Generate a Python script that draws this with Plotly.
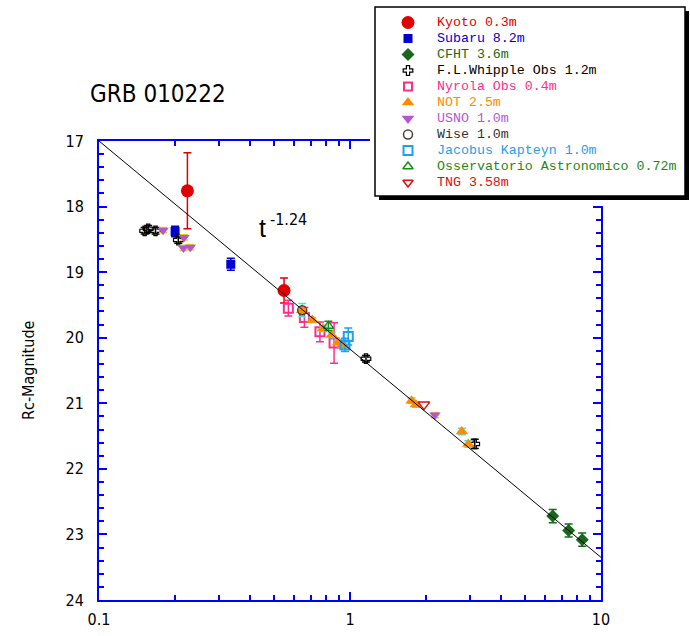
import plotly.graph_objects as go

W, H = 690, 636

# ---------------- data ----------------
kyoto_t = [0.225, 0.546]
kyoto_mag = [17.76, 19.28]
kyoto_err = [0.58, 0.19]

subaru_t = [0.201, 0.335]
subaru_mag = [18.38, 18.88]
subaru_err = [0.08, 0.09]

cfht_t = [6.42, 7.43, 8.42]
cfht_mag = [22.72, 22.94, 23.08]
cfht_err = [0.10, 0.10, 0.10]

whipple_t = [0.152, 0.157, 0.168, 0.207, 1.158, 3.14]
whipple_mag = [18.37, 18.34, 18.37, 18.51, 20.32, 21.62]
whipple_err = [0.05, 0.05, 0.05, 0.05, 0.05, 0.07]

nyrola_t = [0.568, 0.658, 0.759, 0.864]
nyrola_mag = [19.55, 19.69, 19.91, 20.08]
nyrola_err = [0.12, 0.15, 0.15, 0.31]

not_t = [0.645, 0.708, 0.78, 0.845, 0.898, 0.94, 1.76, 1.83, 2.79, 2.96]
not_mag = [19.58, 19.73, 19.86, 19.96, 20.07, 20.12, 20.96, 21.02, 21.43, 21.62]
not_err = [0.10, 0.04, 0.04, 0.04, 0.04, 0.04, 0.04, 0.04, 0.05, 0.05]

usno_t = [0.180, 0.218, 0.217, 0.231, 2.18]
usno_mag = [18.36, 18.47, 18.63, 18.62, 21.18]
usno_err = [0.04, 0.04, 0.04, 0.04, 0.04]

wise_t = [0.645]
wise_mag = [19.58]

jkt_t = [0.955, 0.984]
jkt_mag = [20.11, 19.98]
jkt_err = [0.10, 0.13]

oam_t = [0.82]
oam_mag = [19.82]
oam_err = [0.07]

tng_t = [1.97]
tng_mag = [21.02]

fit_t = [0.1, 10]
fit_mag = [17.0, 23.35]

legend_names = ["Kyoto 0.3m", "Subaru 8.2m", "CFHT 3.6m", "F.L.Whipple Obs 1.2m",
                "Nyrola Obs 0.4m", "NOT 2.5m", "USNO 1.0m", "Wise 1.0m",
                "Jacobus Kapteyn 1.0m", "Osservatorio Astronomico 0.72m", "TNG 3.58m"]

y_ticks = [17, 18, 19, 20, 21, 22, 23, 24]
x_ticks = [0.1, 1, 10]
x_ticktext = ["0.1", "1", "10"]

# ---------------- styles ----------------
styles = [
    dict(symbol="circle", size=13, color="#e00000", line=dict(width=0), errc="#e00000", lsize=13),
    dict(symbol="square", size=9, color="#0000d0", line=dict(width=0), errc="#0000d0", lsize=9),
    dict(symbol="diamond", size=10, color="#1a661a", line=dict(width=0), errc="#1a661a", lsize=10),
    dict(symbol="cross-open", size=8, color="#000000", line=dict(width=1.2, color="#000000"), errc="#000000", lsize=8),
    dict(symbol="square-open", size=9, color="#ff2d8a", line=dict(width=2, color="#ff2d8a"), errc="#ff2d8a", lsize=8),
    dict(symbol="triangle-up", size=11, color="#ff8c00", line=dict(width=0), errc="#55dddd", lsize=11),
    dict(symbol="triangle-down", size=10, color="#b455d8", line=dict(width=0), errc="#e6d800", lsize=11),
    dict(symbol="circle-open", size=9, color="#504040", line=dict(width=1.5, color="#504040"), errc="#504040", lsize=9),
    dict(symbol="square-open", size=9, color="#1ea0ef", line=dict(width=2, color="#1ea0ef"), errc="#1ea0ef", lsize=9),
    dict(symbol="triangle-up-open", size=9, color="#1a8a1a", line=dict(width=1.5, color="#1a8a1a"), errc="#1a8a1a", lsize=9),
    dict(symbol="triangle-down-open", size=10, color="#d81010", line=dict(width=1.5, color="#d81010"), errc="#d81010", lsize=9),
]
text_colors = ["#e00000", "#0000d0", "#1a661a", "#000000", "#ff2d8a", "#ff8c00",
               "#b455d8", "#333333", "#1ea0ef", "#1a8a1a", "#d81010"]

series = [
    (kyoto_t, kyoto_mag, kyoto_err),
    (subaru_t, subaru_mag, subaru_err),
    (cfht_t, cfht_mag, cfht_err),
    (whipple_t, whipple_mag, whipple_err),
    (nyrola_t, nyrola_mag, nyrola_err),
    (not_t, not_mag, not_err),
    (usno_t, usno_mag, usno_err),
    (wise_t, wise_mag, None),
    (jkt_t, jkt_mag, jkt_err),
    (oam_t, oam_mag, oam_err),
    (tng_t, tng_mag, None),
]

fig = go.Figure()

for (tx, my, er), st, nm in zip(series, styles, legend_names):
    kw = {}
    if er is not None:
        kw["error_y"] = dict(type="data", array=er, visible=True, color=st["errc"],
                             thickness=1.5, width=4)
    fig.add_trace(go.Scatter(
        x=tx, y=my, mode="markers", name=nm, showlegend=False,
        marker=dict(symbol=st["symbol"], size=st["size"], color=st["color"],
                    line=st["line"], opacity=1),
        xaxis="x", yaxis="y", **kw))

# power-law decay line
fig.add_trace(go.Scatter(x=fit_t, y=fit_mag, mode="lines", showlegend=False,
                         line=dict(color="#000000", width=1), xaxis="x", yaxis="y"))

# ---------------- legend built on a pixel-space overlay subplot ----------------
LX0, LX1, LY0, LY1 = 370, 690, 0, 206
row0, rowstep = 22.5, 16.0
mark_x, text_x = 408, 435
leg_rows = [row0 + rowstep * i for i in range(len(legend_names))]

fig.add_trace(go.Scatter(
    x=[mark_x] * len(legend_names), y=leg_rows, mode="markers", showlegend=False,
    hoverinfo="skip", cliponaxis=False,
    marker=dict(symbol=[s["symbol"] for s in styles],
                size=[s["lsize"] for s in styles],
                color=[s["color"] for s in styles],
                opacity=1,
                line=dict(width=[s["line"].get("width", 0) for s in styles],
                          color=[s["color"] for s in styles])),
    xaxis="x2", yaxis="y2"))

shapes = [
    dict(type="rect", xref="x2", yref="y2", x0=379, y0=11, x1=689, y1=200,
         fillcolor="#000000", line=dict(width=0), layer="below"),
    dict(type="rect", xref="x2", yref="y2", x0=375, y0=7, x1=685, y1=196,
         fillcolor="#ffffff", line=dict(width=1.5, color="#000000"), layer="below"),
]

annotations = []
for nm, yy, col in zip(legend_names, leg_rows, text_colors):
    annotations.append(dict(xref="x2", yref="y2", x=text_x, y=yy, text=nm, showarrow=False,
                            xanchor="left", yanchor="middle",
                            font=dict(family="Liberation Mono, DejaVu Sans Mono, monospace",
                                      size=13.3, color=col)))

def px(x):
    return x / W

def py(y):
    return 1 - y / H

# title
annotations.append(dict(xref="paper", yref="paper", x=px(88), y=py(94), text="GRB 010222",
                        showarrow=False, xanchor="left", yanchor="middle",
                        font=dict(family="Liberation Sans Narrow, DejaVu Sans Condensed, Liberation Sans",
                                  size=24, color="#000000")))
# power law label
annotations.append(dict(xref="paper", yref="paper", x=px(257), y=py(228), text="t",
                        showarrow=False, xanchor="left", yanchor="middle",
                        font=dict(family="Liberation Sans, Arial", size=25, color="#000000")))
annotations.append(dict(xref="paper", yref="paper", x=px(268), y=py(219), text="-1.24",
                        showarrow=False, xanchor="left", yanchor="middle",
                        font=dict(family="Liberation Sans Narrow, DejaVu Sans Condensed, Liberation Sans",
                                  size=16, color="#000000")))
# y axis title
annotations.append(dict(xref="paper", yref="paper", x=px(28), y=py(370), text="Rc-Magnitude",
                        showarrow=False, textangle=-90, xanchor="center", yanchor="middle",
                        font=dict(family="Liberation Sans Narrow, DejaVu Sans Condensed, Liberation Sans",
                                  size=16, color="#000000")))

BLUE = "#0000ff"
tickfont = dict(family="Liberation Sans Narrow, DejaVu Sans Condensed, Liberation Sans",
                size=16, color="#000000")

fig.update_layout(
    width=W, height=H,
    margin=dict(l=0, r=0, t=0, b=0),
    paper_bgcolor="#ffffff", plot_bgcolor="#ffffff",
    showlegend=False,
    shapes=shapes, annotations=annotations,
    xaxis=dict(type="log", range=[-1, 1], domain=[99 / W, 601 / W], anchor="y",
               tickvals=x_ticks, ticktext=x_ticktext, ticks="inside", ticklen=8,
               tickwidth=2, tickcolor=BLUE, showline=True, linecolor=BLUE, linewidth=2,
               mirror="ticks", showgrid=False, zeroline=False, automargin=False,
               tickfont=tickfont, ticklabelstandoff=4,
               minor=dict(tickvals=[0.2, 0.3, 0.4, 0.5, 0.6, 0.7, 0.8, 0.9,
                                    2, 3, 4, 5, 6, 7, 8, 9],
                          ticks="inside", ticklen=5, tickwidth=1.5, tickcolor=BLUE,
                          showgrid=False)),
    yaxis=dict(range=[24, 17], domain=[1 - 600 / H, 1 - 141 / H], anchor="x",
               tickvals=y_ticks, ticks="inside", ticklen=8, tickwidth=2, tickcolor=BLUE,
               showline=True, linecolor=BLUE, linewidth=2, mirror="ticks",
               showgrid=False, zeroline=False, automargin=False,
               tickfont=tickfont, ticklabelstandoff=10,
               minor=dict(dtick=0.2, ticks="inside", ticklen=5, tickwidth=1.5,
                          tickcolor=BLUE, showgrid=False)),
    xaxis2=dict(range=[LX0, LX1], domain=[LX0 / W, LX1 / W], anchor="y2",
                visible=False, fixedrange=True),
    yaxis2=dict(range=[LY1, LY0], domain=[1 - LY1 / H, 1 - LY0 / H], anchor="x2",
                visible=False, fixedrange=True),
)

fig.write_html("out.html")
